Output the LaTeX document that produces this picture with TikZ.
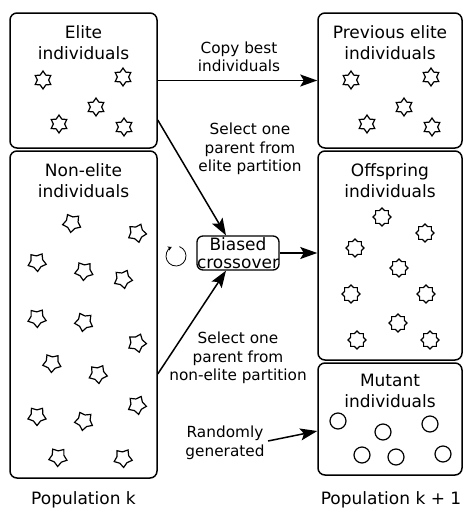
\documentclass[tikz,border=0pt]{standalone}
\usepackage{fontspec}
\setmainfont{DejaVu Sans}
\usetikzlibrary{arrows.meta,shapes.geometric}

\begin{document}
\begin{tikzpicture}[x=1pt,y=-1pt,
	box/.style={draw, line width=1.5pt, rounded corners=7pt, inner sep=0pt},
	title/.style={align=center, font=\fontsize{17}{21}\selectfont},
	note/.style={align=center, font=\fontsize{15.3}{18.5}\selectfont},
	link/.style={line width=1.5pt, -{Stealth[length=17pt,width=12pt,inset=3.5pt]}},
	sixstar/.style={star, star points=6, star point ratio=1.6, draw, line width=1.2pt, minimum size=18pt, inner sep=0pt},
	fivestar/.style={star, star points=5, star point ratio=1.55, draw, line width=1.2pt, minimum size=19pt, inner sep=0pt},
	eightstar/.style={star, star points=8, star point ratio=1.3, draw, line width=1.2pt, minimum size=18pt, inner sep=0pt},
	mutant/.style={circle, draw, line width=1.2pt, minimum size=16pt, inner sep=0pt}]
	\useasboundingbox (0,0) rectangle (464,515);
	% population k
	\node[box, minimum width=147pt, minimum height=135pt] (elite) at (83.5,80.5) {};
	\node[box, minimum width=147pt, minimum height=327pt] (nonelite) at (83.5,314.5) {};
	\node[title] (elitetitle) at (83.5,43) {Elite\\individuals};
	\node[title] (nonelitetitle) at (83.5,181) {Non-elite\\individuals};
	% population k + 1
	\node[box, minimum width=144pt, minimum height=135pt] (prev) at (390,80.5) {};
	\node[box, minimum width=144pt, minimum height=209pt] (offspring) at (390,255.5) {};
	\node[box, minimum width=144pt, minimum height=112pt] (mutant) at (390,419) {};
	\node[title] (prevtitle) at (390,43) {Previous elite\\individuals};
	\node[title] (offspringtitle) at (390,181) {Offspring\\individuals};
	\node[title] (mutanttitle) at (390,391) {Mutant\\individuals};
	% individuals
	\foreach \x/\y [count=\i] in {43/80, 123/77, 96/107, 59/124, 124/127}
	{
		\node[sixstar] (el\i) at (\x,\y) {};
		\node[sixstar] (pe\i) at (\x+308,\y) {};
	}
	\foreach \x/\y/\r [count=\i] in {72/223/172, 137/233/192, 37/262/184, 84/271/176, 123/279/190,
		37/318/182, 84/322/170, 137/343/194, 52/363/176, 98/374/186,
		137/405/190, 37/416/180, 84/421/170, 58/457/178, 123/458/184}
		\node[fivestar, rotate=\r] (ne\i) at (\x,\y) {};
	\foreach \x/\y [count=\i] in {382/217, 425/233, 355/248, 399/268, 351/294,
		426/294, 398/323, 357/340, 430/340}
		\node[eightstar] (of\i) at (\x,\y) {};
	\foreach \x/\y [count=\i] in {338/421, 383/432, 430/424, 362/455, 396/457, 443/454}
		\node[mutant] (mu\i) at (\x,\y) {};
	% crossover
	\node[draw, line width=1.3pt, rounded corners=6pt, align=center, inner sep=0pt,
		minimum width=82pt, minimum height=34pt, font=\fontsize{17}{17.5}\selectfont] (cross) at (238,253) {Biased\\crossover};
	\coordinate (cyc) at (176,256);
	\draw[line width=0.8pt, -{Stealth[length=4pt,width=4.5pt]}] (cyc) ++(-70:10) arc[start angle=-70, end angle=245, radius=10];
	% operations
	\node[note] (copy) at (239,57) {Copy best\\individuals};
	\node[note] (selelite) at (250,149) {Select one\\parent from\\elite partition};
	\node[note] (selnonelite) at (238,358) {Select one\\parent from\\non-elite partition};
	\node[note] (rand) at (225,443) {Randomly\\generated};
	\draw[link] (elite.east) -- (prev.west);
	\draw[link] ([yshift=-39.5pt]elite.east) -- ([xshift=-12pt]cross.north);
	\draw[link] ([yshift=-59.5pt]nonelite.east) -- ([xshift=-12pt]cross.south);
	\draw[link] (cross.east) -- (cross.east -| offspring.west);
	\draw[link] ([yshift=2pt]rand.east) -- ([yshift=-12pt]mutant.west);
	% captions
	\node[title] (popk) at (83.5,500) {Population k};
	\node[title] (popk1) at (391,500) {Population k + 1};
\end{tikzpicture}
\end{document}
